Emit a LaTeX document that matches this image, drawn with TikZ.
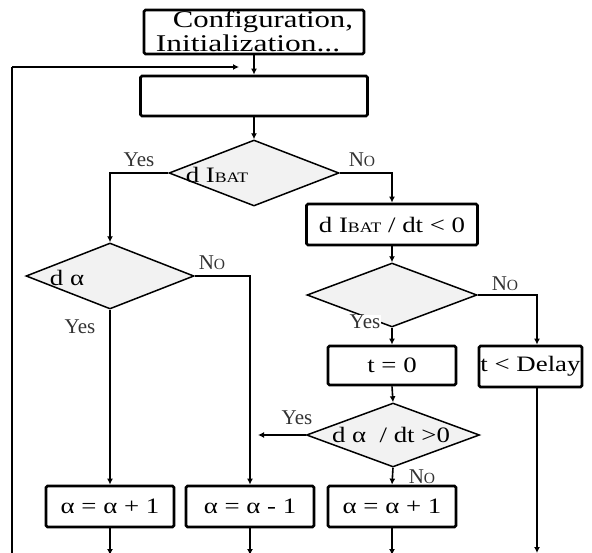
\documentclass[tikz,border=0pt]{standalone}
\usepackage{fontspec}
\usepackage{graphicx}
\setmainfont{Liberation Serif}
\usetikzlibrary{shapes.geometric,arrows.meta,calc}
\newcommand{\wx}[1]{\scalebox{1.22}[1]{#1}}
\newcommand{\smc}[1]{{\fontsize{14.5}{14.5}\selectfont #1}}
\newcommand{\smo}[1]{{\fontsize{15.5}{15.5}\selectfont #1}}
\begin{document}
\begin{tikzpicture}[x=1pt,y=-1pt,
  box/.style={draw,line width=2.8pt,rounded corners=1.5pt,minimum width=128pt,minimum height=41pt,inner sep=0pt,font=\fontsize{22}{22}\selectfont},
  dec/.style={draw,diamond,fill=black!5,line width=1.5pt,inner sep=0pt,minimum width=170pt,minimum height=66pt},
  lbl/.style={font=\fontsize{21}{21}\selectfont,text=black!80,inner sep=0.5pt},
  txt/.style={font=\fontsize{22}{22}\selectfont,inner sep=0pt},
  con/.style={line width=1.6pt},
  arr/.style={con,-{Latex[length=6pt,width=6pt]}}]
\useasboundingbox (0,0) rectangle (592,552);
% top box
\node[font=\fontsize{24}{24}\selectfont,inner sep=0pt,anchor=base] (c1) at (263,27) {\scalebox{1.28}[1]{Configuration,}};
\node[font=\fontsize{24}{24}\selectfont,inner sep=0pt,anchor=base] (c2) at (248,51) {\scalebox{1.31}[1]{Initialization...}};
\node[box,minimum width=220pt,minimum height=44pt] (init) at (254,32) {};
\node[box,minimum width=227pt,minimum height=40pt] (b2) at (254,96) {};
% decisions
\node[dec] (d1) at (254,173) {};
\node[txt] (t1) at (217,175) {\wx{d I\smc{BAT}}};
\node[dec,minimum width=168pt] (d2) at (110,276) {};
\node[txt] (t2) at (67,278) {\wx{d α}};
\node[box,minimum width=171pt] (bI) at (392,224.5) {\wx{d I\smc{BAT} / dt < 0}};
\node[dec,minimum height=64pt] (d3) at (392,295) {};
\node[box,minimum height=39pt] (t0) at (392,365.5) {\wx{t = 0}};
\node[box,minimum width=103pt] (td) at (530.5,366.5) {\wx{t < Delay}};
\node[dec,minimum width=173pt,minimum height=64pt] (d4) at (393,435) {};
\node[txt] (t4) at (391,435) {\wx{d α~ / dt >0}};
% action boxes
\node[box] (a1) at (110,506.5) {\wx{α = α + 1}};
\node[box] (a2) at (250,506.5) {\wx{α = α - 1}};
\node[box] (a3) at (392,506.5) {\wx{α = α + 1}};
% coordinates
\coordinate (lb) at (12,560);
\coordinate (lc) at (12,67);
\coordinate (lt) at (239,67);
\coordinate (d4l) at (258,435);
\coordinate (e1) at (110,555);
\coordinate (e2) at (250,555);
\coordinate (e3) at (392,555);
\coordinate (e4) at (537,553);
% connectors
\draw[line width=2.8pt] (lb) -- (lc);
\draw[arr] (lc) -- (lt);
\draw[arr] (init.south) -- (b2.north);
\draw[arr] (b2.south) -- (d1.north);
\draw[arr] (d1.west) -| (d2.north);
\draw[arr] (d1.east) -| (bI.north);
\draw[arr] (d2.east) -| (a2.north);
\draw[arr] (d2.south) -- (a1.north);
\draw[arr] (bI.south) -- (d3.north);
\draw[arr] (d3.east) -| ([xshift=6.5pt]td.north);
\draw[arr] (d3.south) -- (t0.north);
\draw[arr] (t0.south) -- (d4.north);
\draw[arr] (d4.west) -- (d4l);
\draw[arr] (d4.south) -- (a3.north);
\draw[arr] (a1.south) -- (e1);
\draw[arr] (a2.south) -- (e2);
\draw[arr] (a3.south) -- (e3);
\draw[arr] ([xshift=6.5pt]td.south) -- (e4);
% labels
\node[lbl] (y1) at (139,160) {Yes};
\node[lbl] (n1) at (362,160) {N\smo{O}};
\node[lbl] (n2) at (212,263) {N\smo{O}};
\node[lbl] (y2) at (80,327) {Yes};
\node[lbl] (n3) at (505,284) {N\smo{O}};
\node[lbl,fill=white] (y3) at (365,322) {Yes};
\node[lbl] (y4) at (297,418) {Yes};
\node[lbl] (n4) at (422,477) {N\smo{O}};
\end{tikzpicture}
\end{document}
